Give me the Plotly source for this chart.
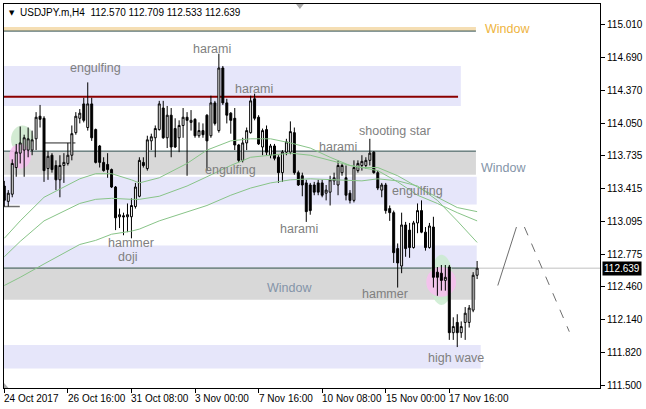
import plotly.graph_objects as go

# ---------------- data (bar index, prices) ----------------
bar_index = list(range(120))
opens = [113.44,113.29,113.36,113.62,113.76,113.79,113.79,113.79,113.90,114.12,
         114.10,113.61,113.74,113.64,113.50,113.64,113.66,113.74,113.96,114.10,
         114.24,114.01,114.24,113.99,113.83,113.67,113.65,113.60,113.43,113.14,
         113.15,113.14,113.14,113.24,113.34,113.67,113.61,113.88,113.91,113.99,
         114.20,113.91,114.13,114.00,113.91,114.03,114.11,114.06,114.09,113.93,
         113.98,114.13,113.93,114.25,113.98,114.59,114.25,114.15,114.10,113.84,
         113.69,113.86,113.96,114.29,114.11,113.82,113.99,113.74,113.83,113.72,
         113.57,113.77,113.77,113.96,113.57,113.54,113.47,113.45,113.45,113.47,
         113.47,113.37,113.38,113.49,113.45,113.57,113.52,113.37,113.30,113.59,
         113.64,113.64,113.69,113.77,113.57,113.40,113.45,113.22,113.18,112.83,
         112.66,113.06,113.01,112.84,113.08,113.20,112.99,112.84,113.04,112.60,
         112.59,112.52,112.65,112.01,112.11,112.01,112.11,112.11,112.23,112.570]
highs = [113.49,113.40,113.70,113.85,114.02,113.94,114.01,113.98,114.16,114.23,
         114.12,113.78,113.76,113.69,113.74,113.76,113.86,114.03,114.16,114.19,
         114.30,114.45,114.30,114.00,113.84,113.72,113.76,113.61,113.44,113.22,
         113.18,113.27,113.32,113.47,113.72,113.72,113.93,113.95,114.03,114.27,
         114.27,114.22,114.20,114.10,114.08,114.20,114.16,114.18,114.10,114.06,
         114.05,114.14,114.32,114.27,114.73,114.61,114.29,114.16,114.20,113.85,
         113.91,114.01,114.32,114.34,114.13,114.00,114.03,113.85,113.85,113.74,
         113.79,113.90,114.07,114.01,113.59,113.57,113.50,113.47,113.48,113.50,
         113.50,113.45,113.54,113.57,113.69,113.66,113.64,113.40,113.69,113.69,
         113.74,113.72,113.90,113.78,113.59,113.47,113.47,113.25,113.20,112.88,
         113.18,113.09,113.08,113.10,113.27,113.30,113.04,113.08,113.14,112.65,
         112.67,112.67,112.67,112.16,112.19,112.12,112.26,112.28,112.60,112.709]
lows = [113.24,113.24,113.33,113.53,113.66,113.53,113.72,113.74,113.79,114.01,
        113.48,113.50,113.57,113.40,113.33,113.47,113.64,113.69,113.94,114.05,
        114.06,113.98,113.88,113.66,113.62,113.58,113.52,113.42,113.01,113.03,
        112.96,112.99,112.93,113.22,113.33,113.62,113.59,113.79,113.72,113.98,
        113.90,113.81,113.72,113.81,113.77,113.91,113.54,113.98,113.91,113.91,
        113.91,113.59,113.91,114.03,113.96,114.23,114.05,113.95,113.79,113.67,
        113.67,113.79,113.95,114.08,113.84,113.74,113.74,113.71,113.69,113.47,
        113.48,113.74,113.75,113.55,113.44,113.34,113.09,113.16,113.35,113.35,
        113.33,113.30,113.25,113.45,113.35,113.54,113.30,113.27,113.28,113.57,
        113.59,113.61,113.64,113.56,113.40,113.33,113.17,113.10,112.69,112.45,
        112.59,112.75,112.74,112.83,112.98,112.98,112.81,112.83,112.45,112.37,
        112.42,112.42,111.94,111.94,111.87,111.96,111.94,112.06,112.21,112.533]
closes = [113.30,113.37,113.66,113.77,113.86,113.91,113.90,113.89,114.11,114.09,
          113.59,113.73,113.60,113.50,113.64,113.67,113.74,113.95,114.12,114.15,
          114.08,114.24,113.91,113.67,113.67,113.59,113.60,113.43,113.13,113.16,
          113.14,113.16,113.25,113.43,113.69,113.64,113.89,113.92,114.00,114.24,
          113.91,114.13,113.82,113.82,114.03,114.11,114.08,114.08,113.93,113.98,
          113.94,113.88,114.25,114.05,114.59,114.25,114.13,114.08,113.84,113.69,
          113.86,113.98,114.27,114.10,113.85,113.98,113.77,113.83,113.71,113.57,
          113.77,113.87,113.97,113.57,113.45,113.45,113.19,113.20,113.38,113.38,
          113.35,113.40,113.50,113.52,113.64,113.64,113.35,113.30,113.62,113.66,
          113.68,113.69,113.76,113.57,113.42,113.45,113.20,113.18,112.79,112.69,
          113.06,112.83,112.84,113.08,113.20,112.99,112.84,113.05,112.55,112.55,
          112.52,112.55,112.01,112.07,112.01,112.07,112.20,112.25,112.57,112.639]

# moving averages, read at sample bars
ma_index = [0,4,10,19,23,27,32,34,39,46,51,57,62,67,72,77,82,87,90,94,99,104,109,114,119]
ma_fast = [112.93,113.10,113.33,113.51,113.56,113.56,113.50,113.47,113.52,113.66,113.79,113.88,
           113.90,113.90,113.86,113.81,113.72,113.64,113.62,113.62,113.54,113.43,113.33,113.23,113.19]
ma_mid = [112.75,112.90,113.10,113.27,113.31,113.32,113.31,113.31,113.34,113.44,113.53,113.64,
          113.72,113.74,113.76,113.74,113.69,113.64,113.62,113.59,113.48,113.35,113.27,113.18,113.10]
ma_slow = [112.47,112.55,112.68,112.87,112.91,112.97,113.00,113.02,113.10,113.19,113.25,113.35,
           113.42,113.47,113.50,113.51,113.50,113.49,113.49,113.51,113.49,113.44,113.30,113.10,112.89]

# projection zigzag
proj_up_x = [124.2, 128.9]
proj_up_y = [112.47, 113.04]
proj_down_x = [130.9, 142.2]
proj_down_y = [113.04, 112.02]

# zones: (price_low, price_high, bar_end)
lavender_zones = [(114.22, 114.61, 114.9), (113.26, 113.53, 118.9),
                  (112.65, 112.86, 118.9), (111.66, 111.89, 119.9)]
gray_zones = [(113.55, 113.78, 118.7), (112.33, 112.64, 118.7)]
window_top = (114.95, 114.99, 118.7)
resistance_price = 114.31
resistance_end = 114.2
pivot_lines = [(113.86, 10.2, 17.9), (113.24, -0.1, 3.9)]
blobs = [  # (x0, x1, y0, y1, color)
    (1.7, 7.4, 113.76, 114.03, "rgba(200,230,200,0.8)"),
    (1.2, 6.7, 113.61, 113.85, "rgba(248,190,240,0.85)"),
    (107.2, 112.9, 112.28, 112.77, "rgba(200,235,205,0.8)"),
    (106.2, 113.7, 112.36, 112.65, "rgba(248,190,240,0.85)"),
]

bid_price = 112.639

# pattern labels (text, bar, price, color)
labels = [
    ("engulfing", 22.9, 114.59, "#7f7f7f"),
    ("harami", 52.2, 114.78, "#7f7f7f"),
    ("harami", 62.9, 114.39, "#7f7f7f"),
    ("shooting star", 98.4, 113.98, "#7f7f7f"),
    ("harami", 83.9, 113.82, "#7f7f7f"),
    ("engulfing", 56.9, 113.60, "#7f7f7f"),
    ("engulfing", 103.9, 113.39, "#7f7f7f"),
    ("harami", 74.2, 113.02, "#7f7f7f"),
    ("hammer", 31.9, 112.88, "#7f7f7f"),
    ("doji", 30.9, 112.75, "#7f7f7f"),
    ("hammer", 95.7, 112.39, "#7f7f7f"),
    ("high wave", 113.7, 111.76, "#7f7f7f"),
    ("Window", 71.7, 112.45, "#8494a8"),
    ("Window", 125.7, 113.62, "#8494a8"),
    ("Window", 126.7, 114.97, "#eeb43e"),
]

x_tick_index = [0, 16, 32, 48, 64, 80, 96, 112]
x_tick_labels = ["24 Oct 2017", "26 Oct 16:00", "31 Oct 08:00", "3 Nov 00:00",
                 "7 Nov 16:00", "10 Nov 08:00", "15 Nov 00:00", "17 Nov 16:00"]
y_tick_values = [115.010, 114.690, 114.370, 114.050, 113.735, 113.415, 113.095,
                 112.775, 112.460, 112.140, 111.820, 111.500]

title_text = "USDJPY.m,H4  112.570 112.709 112.533 112.639"

# ---------------- figure ----------------
fig = go.Figure()

shapes = []
for lo, hi, end in lavender_zones:
    shapes.append(dict(type="rect", xref="x", yref="y", x0=-1, x1=end, y0=lo, y1=hi,
                       fillcolor="#e6e6fa", line=dict(width=0), layer="below"))
for lo, hi, end in gray_zones:
    shapes.append(dict(type="rect", xref="x", yref="y", x0=-1, x1=end, y0=lo, y1=hi,
                       fillcolor="#d8d8d8", line=dict(width=0), layer="below"))
    shapes.append(dict(type="line", xref="x", yref="y", x0=-1, x1=end, y0=hi, y1=hi,
                       line=dict(color="#2f4f4f", width=1), layer="below"))
shapes.append(dict(type="rect", xref="x", yref="y", x0=-1, x1=window_top[2],
                   y0=window_top[0], y1=window_top[1], fillcolor="#f5deb3",
                   line=dict(width=0), layer="below"))
shapes.append(dict(type="line", xref="x", yref="y", x0=-1, x1=window_top[2],
                   y0=window_top[0], y1=window_top[0], line=dict(color="#2f4f4f", width=1),
                   layer="below"))
for x0, x1, y0, y1, col in blobs:
    shapes.append(dict(type="circle", xref="x", yref="y", x0=x0, x1=x1, y0=y0, y1=y1,
                       fillcolor=col, line=dict(width=0), layer="below"))
shapes.append(dict(type="line", xref="paper", yref="y", x0=0, x1=1, y0=bid_price, y1=bid_price,
                   line=dict(color="#c0c0c0", width=1), layer="below"))
shapes.append(dict(type="line", xref="x", yref="y", x0=-1, x1=resistance_end,
                   y0=resistance_price, y1=resistance_price,
                   line=dict(color="#8b0000", width=2), layer="below"))
for p, a, b in pivot_lines:
    shapes.append(dict(type="line", xref="x", yref="y", x0=a, x1=b, y0=p, y1=p,
                       line=dict(color="#6e6e6e", width=1.5), layer="below"))
# chart shift marker and corner marker
shapes.append(dict(type="path", xref="paper", yref="paper",
                   path="M 0.49 1 L 0.503 1 L 0.4965 0.987 Z",
                   fillcolor="#a9a9a9", line=dict(width=0)))
shapes.append(dict(type="path", xref="paper", yref="paper",
                   path="M 0 0 L 0 0.013 L 0.0075 0 Z",
                   fillcolor="#a9a9a9", line=dict(width=0)))

ma_color = "#88c488"
for series in (ma_fast, ma_mid, ma_slow):
    fig.add_trace(go.Scatter(x=ma_index, y=series, mode="lines",
                             line=dict(color=ma_color, width=1), hoverinfo="skip"))

fig.add_trace(go.Candlestick(
    x=bar_index, open=opens, high=highs, low=lows, close=closes,
    increasing=dict(fillcolor="#ffffff", line=dict(color="#000000", width=1)),
    decreasing=dict(fillcolor="#000000", line=dict(color="#000000", width=1)),
    whiskerwidth=0, hoverinfo="skip"))

fig.add_trace(go.Scatter(x=proj_up_x, y=proj_up_y, mode="lines",
                         line=dict(color="#6e6e6e", width=1), hoverinfo="skip"))
fig.add_trace(go.Scatter(x=proj_down_x, y=proj_down_y, mode="lines",
                         line=dict(color="#6e6e6e", width=1, dash="dash"), hoverinfo="skip"))

annotations = []
for txt, bx, py, col in labels:
    annotations.append(dict(x=bx, y=py, xref="x", yref="y", text=txt, showarrow=False,
                            font=dict(family="Liberation Sans, Arial", size=12.5, color=col),
                            xanchor="center", yanchor="middle"))
for idx, lab in zip(x_tick_index, x_tick_labels):
    annotations.append(dict(x=idx, y=0, xref="x", yref="paper", text=lab, showarrow=False,
                            font=dict(family="Liberation Sans, Arial", size=10, color="#000"),
                            xanchor="left", yanchor="top", yshift=-3, xshift=-2))
annotations.append(dict(x=1, y=bid_price, xref="paper", yref="y", text="112.639",
                        showarrow=False, xanchor="left", yanchor="middle", xshift=2,
                        bgcolor="#000000", borderpad=1,
                        font=dict(family="Liberation Sans, Arial", size=10, color="#ffffff")))
annotations.append(dict(x=0.005, y=0.977, xref="paper", yref="paper", text="▼",
                        showarrow=False, xanchor="left", yanchor="middle",
                        font=dict(family="DejaVu Sans", size=7, color="#000")))
annotations.append(dict(x=0.023, y=0.977, xref="paper", yref="paper", text=title_text,
                        showarrow=False, xanchor="left", yanchor="middle",
                        font=dict(family="Liberation Sans, Arial", size=10, color="#000")))

fig.update_layout(
    width=646, height=409,
    margin=dict(l=3, r=43, t=3, b=21),
    paper_bgcolor="#ffffff", plot_bgcolor="#ffffff",
    showlegend=False,
    shapes=shapes, annotations=annotations,
    xaxis=dict(range=[-0.075, 149.925], showgrid=False, zeroline=False,
               showline=True, linecolor="#000", linewidth=1, mirror=True,
               ticks="outside", ticklen=4, tickcolor="#000", tickvals=x_tick_index,
               showticklabels=False, rangeslider=dict(visible=False), fixedrange=True),
    yaxis=dict(range=[111.471, 115.214], side="right", showgrid=False, zeroline=False,
               showline=True, linecolor="#000", linewidth=1, mirror=True,
               ticks="outside", ticklen=4, tickcolor="#000",
               tickvals=y_tick_values, ticktext=[f"{v:.3f}" for v in y_tick_values],
               tickfont=dict(family="Liberation Sans, Arial", size=10, color="#000"),
               fixedrange=True),
)

fig.write_html("out.html", config={"displayModeBar": False},
               post_script="document.body.style.margin='0';")
